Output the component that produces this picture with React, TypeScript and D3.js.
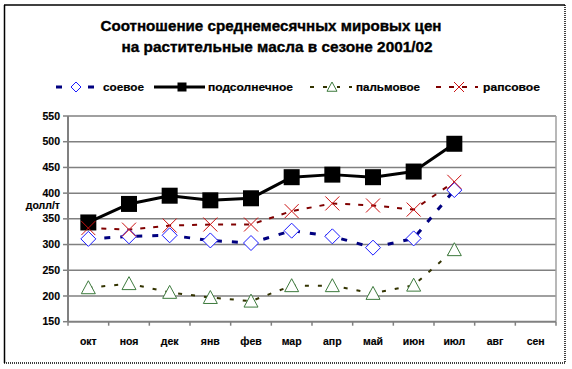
import React from "react";
import * as d3 from "d3";

const months = ["окт", "ноя", "дек", "янв", "фев", "мар", "апр", "май", "июн", "июл", "авг", "сен"];
const soy = [311, 316, 318, 308, 303, 327, 316, 294, 312, 406];
const sunflower = [343, 379, 395, 386, 390, 431, 436, 431, 442, 496];
const palm = [216, 224, 207, 197, 190, 220, 220, 205, 221, 290];
const rapeseed = [332, 329, 337, 339, 339, 365, 380, 376, 368, 422];
const yTicks = [150, 200, 250, 300, 350, 400, 450, 500, 550];
const seriesNames = ["соевое", "подсолнечное", "пальмовое", "рапсовое"];
const titleLines = ["Соотношение среднемесячных мировых  цен", "на растительные масла в сезоне 2001/02"];
const yLabel = "долл/т";

const W = 572;
const H = 369;
const FONT = "'Liberation Sans', Arial, sans-serif";

const x = d3.scaleBand<string>().domain(months).range([68, 556]);
const y = d3.scaleLinear().domain([150, 550]).range([321.7, 116]);
const cx = (i: number) => (x(months[i]) as number) + x.bandwidth() / 2;

type Marker = "diamond" | "square" | "triangle" | "cross";

function MarkerShape({ kind, px, py, s }: { kind: Marker; px: number; py: number; s: number }) {
  if (kind === "square") {
    return <rect x={px - s / 2} y={py - s / 2} width={s} height={s} fill="#000" />;
  }
  if (kind === "diamond") {
    const h = s / 2;
    return (
      <path
        d={`M${px},${py - h}L${px + h},${py}L${px},${py + h}L${px - h},${py}Z`}
        fill="#fff"
        stroke="#1a1aff"
        strokeWidth={1}
      />
    );
  }
  if (kind === "triangle") {
    const h = s / 2;
    return (
      <path
        d={`M${px},${py - h}L${px + h},${py + h * 0.85}L${px - h},${py + h * 0.85}Z`}
        fill="#fff"
        stroke="#3d7a3d"
        strokeWidth={1}
      />
    );
  }
  const h = s / 2;
  return (
    <path
      d={`M${px - h},${py - h}L${px + h},${py + h}M${px + h},${py - h}L${px - h},${py + h}`}
      stroke="#cc1010"
      strokeWidth={1}
      fill="none"
    />
  );
}

const series = [
  { name: seriesNames[0], data: soy, color: "#000080", width: 3, dash: "6,10", marker: "diamond" as Marker, ms: 15 },
  { name: seriesNames[1], data: sunflower, color: "#000000", width: 3, dash: "", marker: "square" as Marker, ms: 16 },
  { name: seriesNames[2], data: palm, color: "#333300", width: 2, dash: "4,9", marker: "triangle" as Marker, ms: 14 },
  { name: seriesNames[3], data: rapeseed, color: "#800000", width: 2, dash: "5,8", marker: "cross" as Marker, ms: 14 },
];

const legendItems = [
  { x0: 56, x1: 94, mx: 76, tx: 103, tw: 41 },
  { x0: 154, x1: 205, mx: 182, tx: 208, tw: 85 },
  { x0: 310, x1: 352, mx: 332, tx: 356, tw: 64 },
  { x0: 436, x1: 478, mx: 459, tx: 483, tw: 57 },
];

export default function App() {
  const line = d3
    .line<number>()
    .x((_, i) => cx(i))
    .y((d) => y(d));

  return (
    <svg width={W} height={H} style={{ position: "absolute", left: 0, top: 0, background: "#fff" }}>
      <rect x={0} y={0} width={W} height={H} fill="#fff" />
      {/* frame */}
      <line x1={4.5} y1={5} x2={4.5} y2={363} stroke="#000" strokeWidth={1.5} />
      <line x1={4} y1={5} x2={565} y2={5} stroke="#000" strokeWidth={1.5} />
      <line x1={565} y1={5} x2={565} y2={363} stroke="#000" strokeWidth={1.5} strokeDasharray="1,1" />
      <line x1={4} y1={363} x2={565.5} y2={363} stroke="#000" strokeWidth={1.5} strokeDasharray="1,1" />

      {/* title */}
      <text x={271} y={30.5} textAnchor="middle" fontFamily={FONT} fontWeight="bold" fontSize={14.5}
        stroke="#000" strokeWidth={0.35}
        textLength={341} lengthAdjust="spacingAndGlyphs">{titleLines[0]}</text>
      <text x={277} y={52} textAnchor="middle" fontFamily={FONT} fontWeight="bold" fontSize={14.5}
        stroke="#000" strokeWidth={0.35}
        textLength={311} lengthAdjust="spacingAndGlyphs">{titleLines[1]}</text>

      {/* legend */}
      {series.map((s, k) => {
        const L = legendItems[k];
        const ly = 87;
        return (
          <g key={s.name}>
            <line x1={L.x0} y1={ly} x2={L.x1} y2={ly} stroke={s.color} strokeWidth={s.width}
              strokeDasharray={s.dash || undefined} />
            {s.marker === "square" || s.marker === "cross" ? null : (
              <rect x={L.mx - 5} y={ly - 5} width={10} height={10} fill="#fff" />
            )}
            <MarkerShape kind={s.marker} px={L.mx} py={ly} s={s.marker === "square" ? 9 : 10} />
            <text x={L.tx} y={ly + 4} fontFamily={FONT} fontWeight="bold" fontSize={11}
              stroke="#000" strokeWidth={0.2}
              textLength={L.tw} lengthAdjust="spacingAndGlyphs">{s.name}</text>
          </g>
        );
      })}

      {/* gridlines */}
      {yTicks.slice(1).map((t) => (
        <line key={t} x1={68} x2={556} y1={y(t)} y2={y(t)} stroke="#808080" strokeWidth={1.5} />
      ))}
      <line x1={556} x2={556} y1={y(550)} y2={y(150)} stroke="#a0a0a0" strokeWidth={1.5} />

      {/* axes */}
      <line x1={68} x2={68} y1={y(550)} y2={y(150)} stroke="#808080" strokeWidth={2} />
      <line x1={68} x2={556} y1={y(150)} y2={y(150)} stroke="#808080" strokeWidth={2} />
      {yTicks.map((t) => (
        <g key={t}>
          <line x1={63} x2={68} y1={y(t)} y2={y(t)} stroke="#808080" strokeWidth={1.5} />
          <text x={60} y={y(t) + 3.6} textAnchor="end" fontFamily={FONT} fontWeight="bold" fontSize={10.5}
            stroke="#000" strokeWidth={0.15}>{t}</text>
        </g>
      ))}
      {months.map((m, i) => (
        <g key={m}>
          <line x1={(x(m) as number)} x2={(x(m) as number)} y1={y(150)} y2={y(150) + 4} stroke="#808080" strokeWidth={1.5} />
          <text x={cx(i)} y={345} textAnchor="middle" fontFamily={FONT} fontWeight="bold" fontSize={10.5}
            stroke="#000" strokeWidth={0.15}>{m}</text>
        </g>
      ))}
      <line x1={556} x2={556} y1={y(150)} y2={y(150) + 4} stroke="#808080" strokeWidth={1.5} />
      <text x={60} y={208.5} textAnchor="end" fontFamily={FONT} fontWeight="bold" fontSize={10.5}
        stroke="#000" strokeWidth={0.15}>{yLabel}</text>

      {/* series lines */}
      {series.map((s) => (
        <path key={s.name} d={line(s.data) || ""} fill="none" stroke={s.color} strokeWidth={s.width}
          strokeDasharray={s.dash || undefined} strokeLinejoin="round" />
      ))}
      {/* markers */}
      {series.map((s) => (
        <g key={s.name + "-m"}>
          {s.data.map((v, i) => (
            <MarkerShape key={i} kind={s.marker} px={cx(i)} py={y(v)} s={s.ms} />
          ))}
        </g>
      ))}
    </svg>
  );
}
